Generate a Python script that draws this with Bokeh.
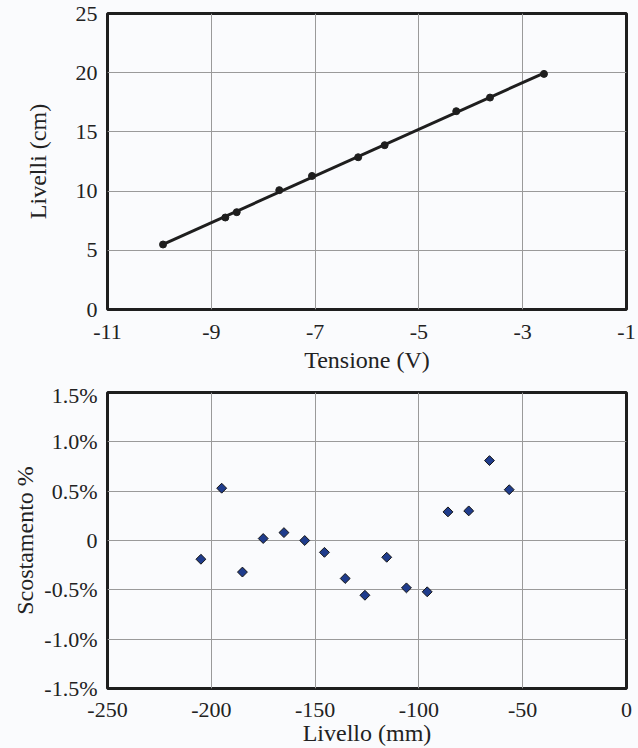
import numpy as np
from bokeh.plotting import figure
from bokeh.layouts import column
from bokeh.models import FixedTicker, Range1d
from bokeh.embed import file_html
from bokeh.resources import INLINE

# ---- data: top chart (calibration) ----
tensione = [-9.93, -8.73, -8.51, -7.69, -7.06, -6.17, -5.66, -4.28, -3.63, -2.59]
livelli = [5.49, 7.77, 8.22, 10.08, 11.28, 12.86, 13.88, 16.75, 17.90, 19.90]
top_xticks = [-11, -9, -7, -5, -3, -1]
top_yticks = [0, 5, 10, 15, 20, 25]

# ---- data: bottom chart (deviation %) ----
livello_mm = [-205, -195, -185, -175, -165, -155, -145.5, -135.5, -126, -115.5,
              -106, -96, -86, -76, -66, -56.5]
scostamento = [-0.19, 0.53, -0.32, 0.02, 0.08, 0.00, -0.12, -0.385, -0.555, -0.17,
               -0.48, -0.52, 0.29, 0.30, 0.81, 0.515]
bot_xticks = [-250, -200, -150, -100, -50, 0]
bot_yticks = [-1.5, -1.0, -0.5, 0, 0.5, 1.0, 1.5]
bot_ylabels = ["-1.5%", "-1.0%", "-0.5%", "0", "0.5%", "1.0%", "1.5%"]

FONT = "'Liberation Serif', 'Times New Roman', serif"
BG = "#fafbfd"
TXT = "#222222"


def style(p, xlab, ylab, ystandoff):
    p.background_fill_color = BG
    p.border_fill_color = BG
    p.outline_line_color = "#1e1e1e"
    p.outline_line_width = 3
    for g in (p.xgrid[0], p.ygrid[0]):
        g.grid_line_color = "#9a9a9a"
        g.grid_line_width = 1
    for ax in (p.xaxis[0], p.yaxis[0]):
        ax.axis_line_color = None
        ax.major_tick_line_color = None
        ax.minor_tick_line_color = None
        ax.major_tick_out = 0
        ax.major_tick_in = 0
        ax.major_label_text_font = FONT
        ax.major_label_text_font_size = "22px"
        ax.major_label_text_color = TXT
        ax.axis_label_text_font = FONT
        ax.axis_label_text_font_size = "24px"
        ax.axis_label_text_font_style = "normal"
        ax.axis_label_text_color = TXT
    p.xaxis[0].axis_label = xlab
    p.yaxis[0].axis_label = ylab
    p.yaxis[0].major_label_standoff = 10
    p.yaxis[0].axis_label_standoff = ystandoff


# ---- top figure ----
p1 = figure(width=638, height=382, output_backend="svg", toolbar_location=None,
            x_range=Range1d(-11, -1), y_range=Range1d(0, 25),
            min_border_left=107, min_border_right=12, min_border_top=13,
            min_border_bottom=73)
style(p1, "Tensione (V)", "Livelli (cm)", 22)
p1.xaxis[0].major_label_standoff = 15
p1.xaxis[0].axis_label_standoff = 5
p1.xaxis[0].ticker = FixedTicker(ticks=top_xticks)
p1.xaxis[0].major_label_overrides = {t: str(t) for t in top_xticks}
p1.yaxis[0].ticker = FixedTicker(ticks=top_yticks)

coef = np.polyfit(tensione, livelli, 1)
xl = np.array([min(tensione), max(tensione)])
p1.line(xl, np.polyval(coef, xl), line_color="#1e1e1e", line_width=3)
p1.scatter(tensione, livelli, marker="circle", size=7, fill_color="#1e1e1e",
           line_color="#1e1e1e")

# ---- bottom figure ----
p2 = figure(width=638, height=366, output_backend="svg", toolbar_location=None,
            x_range=Range1d(-250, 0), y_range=Range1d(-1.5, 1.5),
            min_border_left=107, min_border_right=12, min_border_top=10,
            min_border_bottom=60)
style(p2, "Livello (mm)", "Scostamento %", 3)
xa = p2.xaxis[0]
xa.major_label_text_line_height = 0.9
xa.axis_label_text_line_height = 0.9
xa.major_label_standoff = 14
xa.axis_label_standoff = 0
xa.ticker = FixedTicker(ticks=bot_xticks)
xa.major_label_overrides = {t: str(t) for t in bot_xticks}
p2.yaxis[0].ticker = FixedTicker(ticks=bot_yticks)
p2.yaxis[0].major_label_overrides = {t: l for t, l in zip(bot_yticks, bot_ylabels)}

p2.scatter(livello_mm, scostamento, marker="square", angle=np.pi / 4, size=7,
           fill_color="#1f3c8c", line_color="#151515", line_width=1)

layout = column(p1, p2, spacing=0, styles={"background-color": BG})
open("out.html", "w").write(file_html(layout, INLINE))
